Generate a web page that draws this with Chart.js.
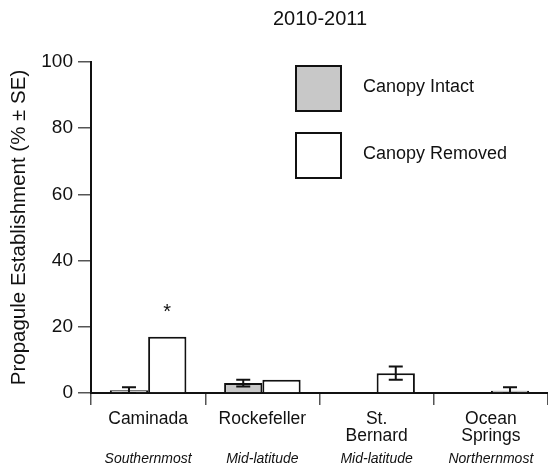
<!DOCTYPE html>
<html>
<head>
<meta charset="utf-8">
<script src="https://cdn.jsdelivr.net/npm/chart.js@4"></script>
<style>
html,body{margin:0;padding:0;background:#fff;}
canvas{display:block;}
</style>
</head>
<body>
<canvas id="c" width="548" height="467"></canvas>
<script>
const categories = ["Caminada", "Rockefeller", ["St.", "Bernard"], ["Ocean", "Springs"]];
const subLabels = ["Southernmost", "Mid-latitude", "Mid-latitude", "Northernmost"];
const intactValues = [0.8, 3, null, null];
const intactErr = [0.9, 1, null, null];
const removedValues = [17, 4, 6, 0.7];
const removedErr = [null, null, 2, 1];
const seriesNames = ["Canopy Intact", "Canopy Removed"];
const yTicks = [0, 20, 40, 60, 80, 100];
const chartTitle = "2010-2011";
const yTitle = "Propagule Establishment (% \u00B1 SE)";
const significance = [{category: 0, series: 1, label: "*", value: 25}];

const FONT = "'Liberation Sans', Arial, sans-serif";

const errPlugin = {
  id: 'errbars',
  afterDatasetsDraw(chart) {
    const ctx = chart.ctx;
    const y = chart.scales.y;
    const errs = [intactErr, removedErr];
    const vals = [intactValues, removedValues];
    ctx.save();
    ctx.strokeStyle = '#111';
    ctx.lineWidth = 2;
    for (let d = 0; d < 2; d++) {
      const meta = chart.getDatasetMeta(d);
      meta.data.forEach((bar, i) => {
        const e = errs[d][i], v = vals[d][i];
        if (e == null || v == null) return;
        const x = bar.x;
        const yt = y.getPixelForValue(v + e);
        const yb = y.getPixelForValue(Math.max(0, v - e));
        const hw = 7;
        ctx.beginPath();
        ctx.moveTo(x, yt); ctx.lineTo(x, yb);
        ctx.moveTo(x - hw, yt); ctx.lineTo(x + hw, yt);
        ctx.moveTo(x - hw, yb); ctx.lineTo(x + hw, yb);
        ctx.stroke();
      });
    }
    ctx.fillStyle = '#111';
    ctx.font = "20px " + FONT;
    ctx.textAlign = 'center';
    ctx.textBaseline = 'middle';
    significance.forEach(s => {
      const bar = chart.getDatasetMeta(s.series).data[s.category];
      ctx.fillText(s.label, bar.x, y.getPixelForValue(s.value) + 2);
    });
    ctx.restore();
  },
  afterDraw(chart) {
    const ctx = chart.ctx;
    const x = chart.scales.x;
    ctx.save();
    ctx.fillStyle = '#111';
    ctx.font = "20px " + FONT;
    ctx.textAlign = 'center';
    ctx.textBaseline = 'middle';
    ctx.fillText(chartTitle, 320, 19);
    ctx.font = "italic 14px " + FONT;
    subLabels.forEach((t, i) => {
      ctx.fillText(t, x.getPixelForValue(i), 459);
    });
    const fills = ['#c8c8c8', '#ffffff'];
    const tops = [66, 133];
    ctx.lineWidth = 2;
    ctx.strokeStyle = '#111';
    ctx.font = "18px " + FONT;
    ctx.textAlign = 'left';
    for (let k = 0; k < 2; k++) {
      ctx.fillStyle = fills[k];
      ctx.fillRect(296, tops[k], 45, 45);
      ctx.strokeRect(296, tops[k], 45, 45);
      ctx.fillStyle = '#111';
      ctx.fillText(seriesNames[k], 363, tops[k] + 21);
    }
    ctx.restore();
  }
};

new Chart(document.getElementById('c'), {
  type: 'bar',
  data: {
    labels: categories,
    datasets: [
      {label: seriesNames[0], data: intactValues, backgroundColor: '#c8c8c8', borderColor: '#111', borderWidth: 2},
      {label: seriesNames[1], data: removedValues, backgroundColor: '#ffffff', borderColor: '#111', borderWidth: 2}
    ]
  },
  options: {
    responsive: false,
    animation: false,
    devicePixelRatio: 1,
    layout: {padding: {top: 62, right: 0, left: 0, bottom: 0}},
    datasets: {bar: {barPercentage: 1.0, categoryPercentage: 0.67}},
    plugins: {legend: {display: false}, tooltip: {enabled: false}, title: {display: false}},
    scales: {
      x: {
        offset: true,
        grid: {offset: true, drawOnChartArea: false, tickLength: 12, color: '#555', lineWidth: 1.5},
        border: {display: true, color: '#111', width: 2},
        ticks: {color: '#111', font: {family: FONT, size: 17.5, lineHeight: 0.95}, maxRotation: 0, padding: 6},
        afterFit(s) { s.height = 74; }
      },
      y: {
        min: 0, max: 100,
        afterBuildTicks(s) { s.ticks = yTicks.map(v => ({value: v})); },
        grid: {drawOnChartArea: false, tickLength: 13, color: '#555', lineWidth: 1.5},
        border: {display: true, color: '#111', width: 2},
        ticks: {color: '#111', font: {family: FONT, size: 19}, padding: 5},
        title: {display: true, text: yTitle, color: '#111', font: {family: FONT, size: 20.5}, padding: {top: 7, bottom: 0}},
        afterFit(s) { s.width = 91; }
      }
    }
  },
  plugins: [errPlugin]
});
</script>
</body>
</html>
